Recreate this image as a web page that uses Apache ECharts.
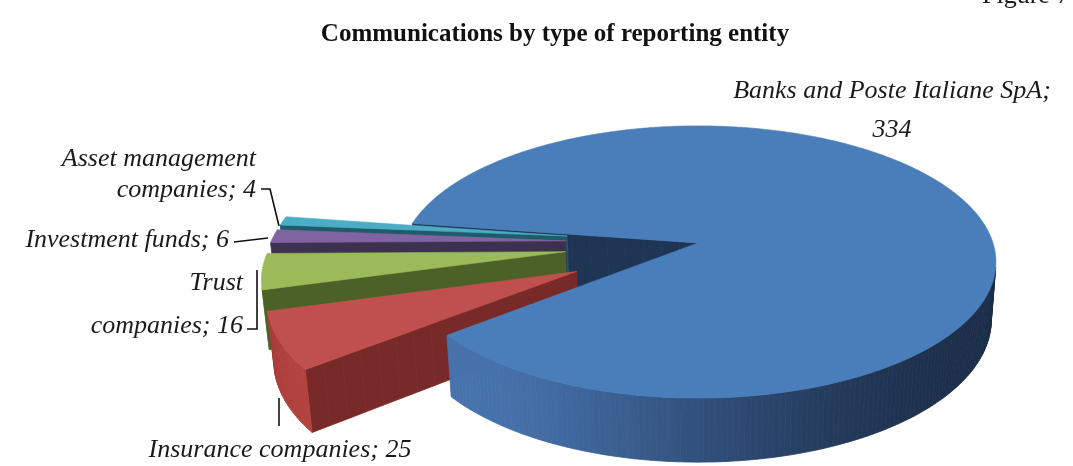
<!DOCTYPE html>
<html>
<head>
<meta charset="utf-8">
<title>Communications by type of reporting entity</title>
<script src="https://cdn.jsdelivr.net/npm/echarts@6/dist/echarts.min.js"></script>
<style>
  html, body { margin: 0; padding: 0; background: #ffffff; }
  #chart { width: 1073px; height: 466px; }
</style>
</head>
<body>
<div id="chart"></div>
<script>
// Reporting entities and number of communications sent by each
const entityTypes = [
  'Banks and Poste Italiane SpA',
  'Insurance companies',
  'Trust companies',
  'Investment funds',
  'Asset management companies'
];
const communications = [334, 25, 16, 6, 4];

// Where each label wraps: 'value' puts the number on its own line,
// a number breaks after that many words, null keeps one line
const labelWrap = ['value', null, 1, null, 2];

// Slice colours: top face, lit and shaded side wall, radial cut face
const sliceColors = [
  { top: '#4a7ebb', wallLight: '#4773ad', wallDark: '#1b2d48', cut: '#1f3554' },
  { top: '#c0504d', wallLight: '#b4413e', wallDark: '#6a2523', cut: '#782a28' },
  { top: '#9bbb59', wallLight: '#89a84c', wallDark: '#3c4f1f', cut: '#4c6127' },
  { top: '#8064a2', wallLight: '#715892', wallDark: '#33284a', cut: '#3e3150' },
  { top: '#4bacc6', wallLight: '#41a0b9', wallDark: '#1b4d5a', cut: '#215a68' }
];
// How far each slice is pulled out of the pie (in pie radii)
const sliceExplode = [0, 0.45, 0.45, 0.45, 0.45];

// Perspective camera for the 3D pie
const view = {
  cx: 698, cy: 243,      // screen position of the pie centre
  scale: 295,            // pixels per radius at the centre depth
  dist: 6.39,            // camera distance in radii
  tilt: 26.9,            // elevation of the camera, degrees
  depth: 0.2225,         // thickness of the pie in radii
  startAngle: 188.6      // angle where the first slice begins
};

const RAD = Math.PI / 180;
const phi = view.tilt * RAD;
const cosP = Math.cos(phi), sinP = Math.sin(phi);
const focal = view.scale * view.dist;
const cam = [0, view.dist * cosP, view.dist * sinP];

function project(X, Y, Z) {
  const ry = Y - cam[1], rz = Z - cam[2];
  const d = -ry * cosP - rz * sinP;
  const up = -ry * sinP + rz * cosP;
  return [view.cx + X * focal / d, view.cy - up * focal / d];
}
function camDist(X, Y, Z) {
  return Math.hypot(X - cam[0], Y - cam[1], Z - cam[2]);
}
function hexToRgb(h) {
  const n = parseInt(h.slice(1), 16);
  return [(n >> 16) & 255, (n >> 8) & 255, n & 255];
}
function mix(a, b, t) {
  const A = hexToRgb(a), B = hexToRgb(b);
  const c = A.map((v, i) => Math.round(v + (B[i] - v) * t));
  return 'rgb(' + c.join(',') + ')';
}
// light comes from the front left
const light = [-0.72, 0.69];

function renderSlice(params, api) {
  const n = params.dataInsideLength;
  const idx = params.dataIndexInside;
  let total = 0, before = 0;
  for (let j = 0; j < n; j++) {
    const v = api.value(0, j);
    total += v;
    if (j < idx) before += v;
  }
  const val = api.value(0);
  const a1 = view.startAngle + before / total * 360;
  const a2 = a1 + val / total * 360;
  const mid = (a1 + a2) / 2 * RAD;
  const ex = sliceExplode[params.dataIndex];
  const ox = ex * Math.cos(mid), oy = ex * Math.sin(mid);
  const col = sliceColors[params.dataIndex];
  const H = view.depth;
  const children = [];

  const rimX = a => ox + Math.cos(a * RAD);
  const rimY = a => oy + Math.sin(a * RAD);

  // outer curved wall, one small quad per degree
  const steps = Math.max(2, Math.ceil(a2 - a1));
  for (let k = 0; k < steps; k++) {
    const t0 = a1 + (a2 - a1) * k / steps;
    const t1 = a1 + (a2 - a1) * (k + 1) / steps;
    const tm = (t0 + t1) / 2 * RAD;
    const nx = Math.cos(tm), ny = Math.sin(tm);
    const px = ox + nx, py = oy + ny;
    if (nx * (cam[0] - px) + ny * (cam[1] - py) <= 0) continue;
    const lit = Math.max(0, Math.min(1, (nx * light[0] + ny * light[1] + 1) / 2));
    const fill = mix(col.wallDark, col.wallLight, Math.pow(lit, 4));
    children.push({
      type: 'polygon',
      z2: 50000 - camDist(px, py, -H / 2) * 1000,
      shape: { points: [
        project(rimX(t0), rimY(t0), 0), project(rimX(t1), rimY(t1), 0),
        project(rimX(t1), rimY(t1), -H), project(rimX(t0), rimY(t0), -H)
      ] },
      style: { fill: fill, stroke: fill, lineWidth: 0.8 }
    });
  }

  // radial cut faces at both ends of the slice, split along the radius
  [[a1, 1], [a2, -1]].forEach(([a, sgn]) => {
    const nx = sgn * Math.sin(a * RAD), ny = -sgn * Math.cos(a * RAD);
    if (nx * (cam[0] - ox) + ny * (cam[1] - oy) <= 0) return;
    const parts = 16;
    const dx = Math.cos(a * RAD), dy = Math.sin(a * RAD);
    for (let k = 0; k < parts; k++) {
      const r0 = k / parts, r1 = (k + 1) / parts, rm = (r0 + r1) / 2;
      children.push({
        type: 'polygon',
        z2: 50000 - camDist(ox + dx * rm, oy + dy * rm, -H / 2) * 1000,
        shape: { points: [
          project(ox + dx * r0, oy + dy * r0, 0), project(ox + dx * r1, oy + dy * r1, 0),
          project(ox + dx * r1, oy + dy * r1, -H), project(ox + dx * r0, oy + dy * r0, -H)
        ] },
        style: { fill: col.cut, stroke: col.cut, lineWidth: 0.8 }
      });
    }
  });

  // top face, always drawn above the walls
  const top = [project(ox, oy, 0)];
  const arcSteps = Math.max(2, Math.ceil((a2 - a1) * 2));
  for (let k = 0; k <= arcSteps; k++) {
    const t = a1 + (a2 - a1) * k / arcSteps;
    top.push(project(rimX(t), rimY(t), 0));
  }
  children.push({
    type: 'polygon',
    z2: 90000,
    shape: { points: top },
    style: { fill: col.top, stroke: col.top, lineWidth: 0.6 }
  });

  return { type: 'group', children: children };
}

function labelText(i) {
  const name = entityTypes[i], value = communications[i];
  const wrap = labelWrap[i];
  if (wrap === 'value') return name + ';\n' + value;
  if (wrap === null) return name + '; ' + value;
  const words = name.split(' ');
  return words.slice(0, wrap).join(' ') + '\n' + words.slice(wrap).join(' ') + '; ' + value;
}

// label placement: anchor point, alignment and line spacing
const labelLayout = [
  { x: 892, y: 111, align: 'center', lineHeight: 39 },
  { x: 280, y: 450, align: 'center', lineHeight: 30 },
  { x: 243, y: 305, align: 'right',  lineHeight: 43 },
  { x: 229, y: 240, align: 'right',  lineHeight: 30 },
  { x: 256, y: 175, align: 'right',  lineHeight: 31 }
];
// leader lines from labels to their slices
const leaderLines = [
  [[279, 398], [279, 426]],
  [[247, 329], [257, 329], [257, 270]],
  [[234, 242], [268, 238]],
  [[261, 189], [270, 189], [279, 226]]
];

const labelFont = 'italic 26px "Liberation Serif", "DejaVu Serif", serif';

const graphics = [];
entityTypes.forEach((_, i) => {
  const L = labelLayout[i];
  graphics.push({
    type: 'text',
    silent: true,
    style: {
      text: labelText(i), x: L.x, y: L.y,
      font: labelFont, fill: '#1a1a1a',
      align: L.align, verticalAlign: 'middle',
      textAlign: L.align, textVerticalAlign: 'middle',
      lineHeight: L.lineHeight
    }
  });
});
leaderLines.forEach(pts => {
  graphics.push({
    type: 'polyline',
    silent: true,
    shape: { points: pts },
    style: { stroke: '#111111', lineWidth: 1.6, fill: null }
  });
});
// figure number in the top right corner
graphics.push({
  type: 'text',
  silent: true,
  style: {
    text: 'Figure 7', x: 982, y: -4,
    font: '26px "Liberation Serif", serif', fill: '#1a1a1a',
    align: 'left', verticalAlign: 'middle',
    textAlign: 'left', textVerticalAlign: 'middle'
  }
});

const chart = echarts.init(document.getElementById('chart'));
chart.setOption({
  animation: false,
  backgroundColor: '#ffffff',
  title: {
    text: 'Communications by type of reporting entity',
    left: 550,
    textAlign: 'center',
    top: 17,
    textStyle: {
      fontFamily: '"Liberation Serif", serif',
      fontWeight: 'bold',
      fontSize: 25,
      color: '#111111'
    }
  },
  graphic: graphics,
  series: [{
    type: 'custom',
    coordinateSystem: 'none',
    silent: true,
    renderItem: renderSlice,
    data: entityTypes.map((name, i) => ({ name: name, value: [communications[i]] }))
  }]
});
</script>
</body>
</html>
